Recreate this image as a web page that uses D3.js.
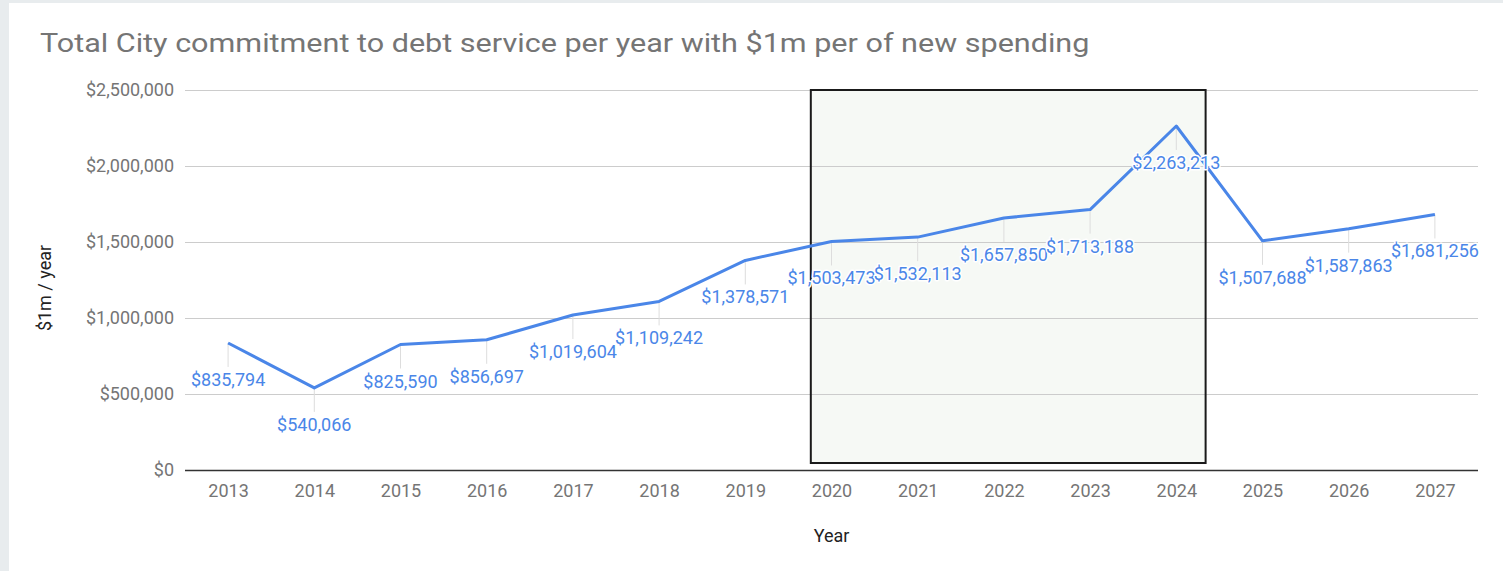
<!DOCTYPE html>
<html>
<head>
<meta charset="utf-8">
<script src="https://cdn.jsdelivr.net/npm/d3@7"></script>
<style>
  html, body { margin: 0; padding: 0; background: #e8ecee; }
  svg { display: block; }
  text { font-family: Roboto, "Noto Sans", sans-serif; }
</style>
</head>
<body>
<svg id="chart" width="1503" height="571"></svg>
<script>
// Chart data
const years = [2013, 2014, 2015, 2016, 2017, 2018, 2019, 2020, 2021, 2022, 2023, 2024, 2025, 2026, 2027];
const debtService = [835794, 540066, 825590, 856697, 1019604, 1109242, 1378571, 1503473, 1532113, 1657850, 1713188, 2263213, 1507688, 1587863, 1681256];
const yTicks = [0, 500000, 1000000, 1500000, 2000000, 2500000];
// Highlighted period (years / dollars)
const highlightYears = [2019.76, 2024.34];
const highlightValues = [46000, 2500000];

const title = "Total City commitment to debt service per year with $1m per of new spending";
const xTitle = "Year";
const yTitle = "$1m / year";

const W = 1503, H = 571;
const plot = { left: 185, right: 1478, top: 90, bottom: 470 };

const svg = d3.select("#chart");

// card background
svg.append("rect").attr("x", 9).attr("y", 3).attr("width", W - 9).attr("height", H - 3).attr("fill", "#ffffff");

const x = d3.scaleLinear().domain([years[0] - 0.5, years[years.length - 1] + 0.5]).range([plot.left, plot.right]);
const y = d3.scaleLinear().domain([0, 2500000]).range([plot.bottom, plot.top]);
const fmt = v => "$" + d3.format(",")(v);

// title, widened horizontally to span the card header
const titleText = svg.append("text").attr("x", 0).attr("y", 0).attr("font-size", 26).attr("fill", "#757575").text(title);
const tw = titleText.node().getComputedTextLength();
titleText.attr("transform", `translate(40,52) scale(${1050 / tw},1)`);

// highlight box fill
svg.append("rect")
  .attr("x", x(highlightYears[0])).attr("y", y(highlightValues[1]))
  .attr("width", x(highlightYears[1]) - x(highlightYears[0]))
  .attr("height", y(highlightValues[0]) - y(highlightValues[1]))
  .attr("fill", "#f6f9f5");

// gridlines and value axis
const yAxis = d3.axisLeft(y).tickValues(yTicks).tickFormat(fmt).tickSize(-(plot.right - plot.left)).tickPadding(11);
const gy = svg.append("g").attr("transform", `translate(${plot.left},0)`).call(yAxis);
gy.select(".domain").remove();
gy.selectAll(".tick line").attr("stroke", "#cccccc").attr("stroke-width", 1);
gy.selectAll(".tick text").attr("font-size", 18).attr("fill", "#757575").attr("font-family", "Roboto, sans-serif");
gy.selectAll(".tick").filter(d => d === 0).select("line").attr("stroke", "#333333").attr("stroke-width", 1.5);

// year axis labels
const xAxis = d3.axisBottom(x).tickValues(years).tickFormat(d3.format("d")).tickSize(0).tickPadding(14);
const gx = svg.append("g").attr("transform", `translate(0,${plot.bottom})`).call(xAxis);
gx.select(".domain").remove();
gx.selectAll(".tick text").attr("font-size", 18).attr("fill", "#757575").attr("font-family", "Roboto, sans-serif");

// axis titles
svg.append("text").attr("x", (plot.left + plot.right) / 2).attr("y", 542).attr("text-anchor", "middle")
  .attr("font-size", 18).attr("fill", "#222222").text(xTitle);
svg.append("text").attr("transform", `translate(51,288) rotate(-90)`)
  .attr("text-anchor", "middle").attr("font-size", 18).attr("fill", "#222222").text(yTitle);

const pts = years.map((yr, i) => ({ yr, v: debtService[i] }));

// annotation stems
svg.append("g").selectAll("line").data(pts).join("line")
  .attr("x1", d => x(d.yr)).attr("x2", d => x(d.yr))
  .attr("y1", d => y(d.v)).attr("y2", d => y(d.v) + 24)
  .attr("stroke", "#dddddd").attr("stroke-width", 1);

// highlight box border
svg.append("rect")
  .attr("x", x(highlightYears[0])).attr("y", y(highlightValues[1]))
  .attr("width", x(highlightYears[1]) - x(highlightYears[0]))
  .attr("height", y(highlightValues[0]) - y(highlightValues[1]))
  .attr("fill", "none").attr("stroke", "#1a1a1a").attr("stroke-width", 2);

// series line
const line = d3.line().x(d => x(d.yr)).y(d => y(d.v));
svg.append("path").datum(pts).attr("d", line)
  .attr("fill", "none").attr("stroke", "#4a86e8").attr("stroke-width", 3).attr("stroke-linejoin", "round");

// value labels
svg.append("g").selectAll("text").data(pts).join("text")
  .attr("x", d => x(d.yr)).attr("y", d => y(d.v) + 43)
  .attr("text-anchor", "middle").attr("font-size", 18)
  .attr("fill", "#4a86e8").attr("stroke", "#ffffff").attr("stroke-width", 3)
  .attr("paint-order", "stroke").attr("stroke-linejoin", "round")
  .text(d => fmt(d.v));
</script>
</body>
</html>
